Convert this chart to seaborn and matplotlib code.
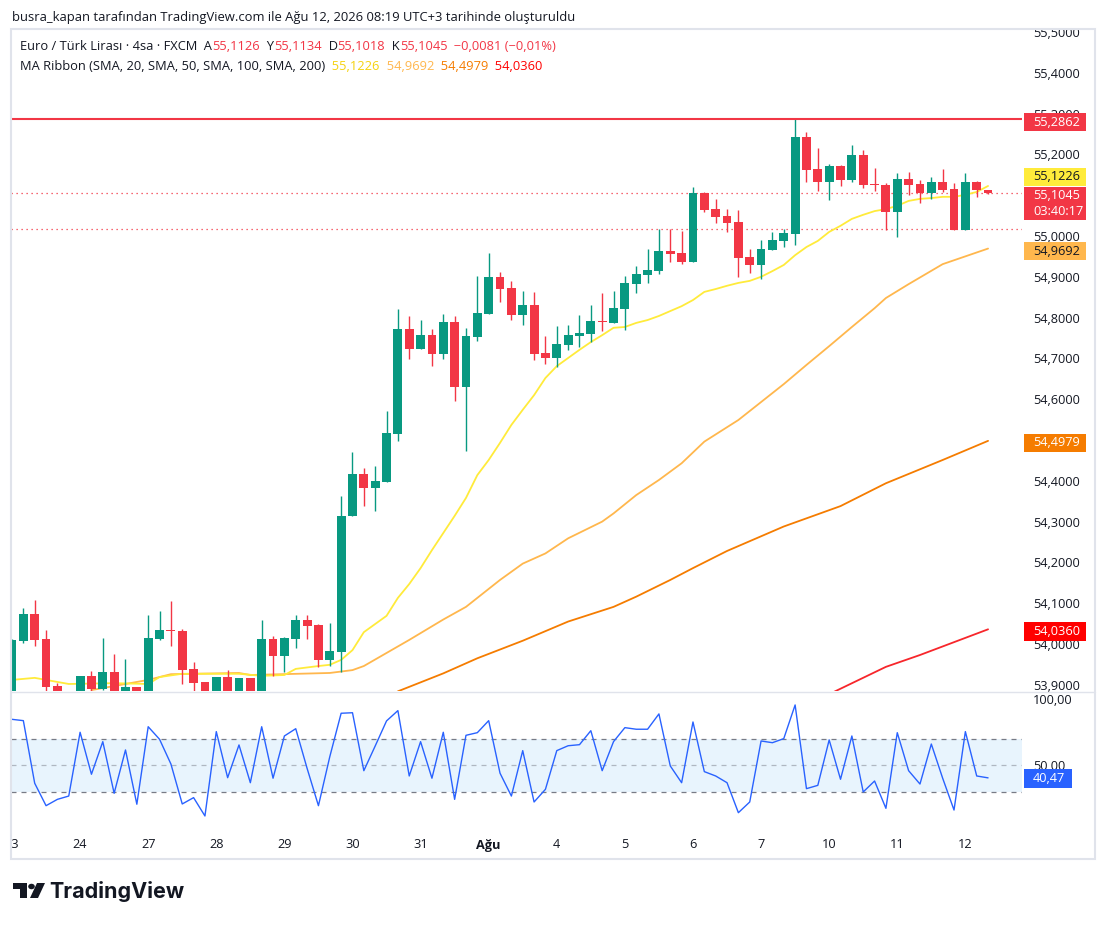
import numpy as np
import pandas as pd
import seaborn as sns
import matplotlib.pyplot as plt
import matplotlib.transforms as mtransforms
from matplotlib.patches import Rectangle, Circle, Polygon
from matplotlib.lines import Line2D

W, H = 1106, 925

# EUR/TRY 4h candles, 23 Jul -> 12 Aug 08:00
opens = [53.860, 54.007, 54.074, 54.012, 53.897, 53.860, 53.870, 53.922, 53.890, 53.931,
         53.875, 53.895, 53.875, 54.012, 54.034, 54.032, 53.939, 53.907, 53.875, 53.919,
         53.875, 53.917, 53.880, 54.012, 53.971, 54.012, 54.059, 54.047, 53.961, 53.980,
         54.314, 54.417, 54.382, 54.397, 54.515, 54.772, 54.723, 54.757, 54.711, 54.789,
         54.630, 54.753, 54.809, 54.900, 54.873, 54.806, 54.831, 54.713, 54.701, 54.733,
         54.755, 54.760, 54.792, 54.787, 54.821, 54.882, 54.904, 54.914, 54.963, 54.958,
         54.936, 55.105, 55.066, 55.049, 55.034, 54.949, 54.929, 54.966, 54.988, 55.005,
         55.243, 55.164, 55.132, 55.172, 55.137, 55.199, 55.128, 55.125, 55.059, 55.140,
         55.128, 55.105, 55.132, 55.115, 55.015, 55.132, 55.1126]
highs = [54.012, 54.088, 54.108, 54.034, 53.904, 53.882, 53.922, 53.935, 54.015, 53.976,
         53.963, 53.895, 54.071, 54.081, 54.105, 54.037, 53.956, 53.907, 53.919, 53.936,
         53.917, 53.917, 54.059, 54.020, 54.017, 54.071, 54.071, 54.049, 54.052, 54.363,
         54.471, 54.431, 54.436, 54.571, 54.821, 54.804, 54.794, 54.772, 54.809, 54.804,
         54.775, 54.902, 54.958, 54.912, 54.890, 54.865, 54.863, 54.755, 54.779, 54.782,
         54.806, 54.831, 54.860, 54.865, 54.902, 54.927, 54.968, 55.017, 55.017, 55.012,
         55.120, 55.108, 55.091, 55.066, 55.064, 54.968, 54.990, 55.010, 55.017, 55.2862,
         55.255, 55.216, 55.177, 55.174, 55.223, 55.211, 55.167, 55.130, 55.154, 55.157,
         55.137, 55.145, 55.164, 55.130, 55.154, 55.135, 55.1134]
lows = [53.850, 54.003, 53.995, 53.870, 53.860, 53.850, 53.860, 53.870, 53.887, 53.860,
        53.860, 53.860, 53.860, 54.010, 53.995, 53.902, 53.880, 53.860, 53.860, 53.860,
        53.860, 53.860, 53.870, 53.922, 53.931, 53.990, 54.012, 53.944, 53.946, 53.931,
        54.313, 54.338, 54.326, 54.396, 54.498, 54.699, 54.722, 54.681, 54.699, 54.596,
        54.473, 54.743, 54.808, 54.838, 54.794, 54.782, 54.696, 54.686, 54.679, 54.721,
        54.728, 54.740, 54.767, 54.786, 54.770, 54.860, 54.885, 54.907, 54.936, 54.931,
        54.936, 55.059, 55.032, 55.010, 54.900, 54.909, 54.895, 54.965, 54.973, 54.978,
        55.132, 55.110, 55.088, 55.123, 55.132, 55.118, 55.110, 55.015, 54.998, 55.101,
        55.081, 55.091, 55.108, 55.015, 55.015, 55.096, 55.1018]
closes = [54.010, 54.074, 54.010, 53.895, 53.870, 53.875, 53.922, 53.890, 53.931, 53.870,
          53.895, 53.870, 54.015, 54.034, 54.032, 53.936, 53.904, 53.870, 53.919, 53.870,
          53.917, 53.875, 54.012, 53.971, 54.015, 54.059, 54.044, 53.961, 53.983, 54.314,
          54.417, 54.382, 54.400, 54.517, 54.772, 54.723, 54.757, 54.711, 54.789, 54.630,
          54.755, 54.811, 54.900, 54.870, 54.806, 54.831, 54.711, 54.701, 54.735, 54.757,
          54.762, 54.792, 54.789, 54.824, 54.885, 54.907, 54.917, 54.963, 54.956, 54.936,
          55.105, 55.064, 55.047, 55.032, 54.946, 54.929, 54.968, 54.990, 55.007, 55.243,
          55.162, 55.132, 55.172, 55.137, 55.199, 55.125, 55.125, 55.059, 55.140, 55.125,
          55.105, 55.132, 55.113, 55.015, 55.132, 55.1126, 55.1045]

# MA Ribbon lines, read at the bars where the curve could be measured
sma20_bars = [0, 2, 5, 9, 12, 13, 15, 20, 22, 24, 25, 27, 28, 29, 30, 31, 33] + list(range(34, 87))
sma20_vals = [53.912, 53.917, 53.902, 53.904, 53.902, 53.919, 53.927, 53.927, 53.922, 53.924,
              53.939, 53.946, 53.949, 53.961, 53.985, 54.029, 54.069,
              54.113, 54.147, 54.186, 54.230, 54.272, 54.314, 54.358, 54.414, 54.451, 54.493,
              54.537, 54.574, 54.610, 54.652, 54.681, 54.701, 54.721, 54.740, 54.757, 54.775,
              54.777, 54.787, 54.794, 54.804, 54.816, 54.828, 54.843, 54.863, 54.870, 54.878,
              54.885, 54.890, 54.900, 54.914, 54.929, 54.953, 54.973, 54.988, 55.010, 55.025,
              55.042, 55.052, 55.061, 55.066, 55.074, 55.086, 55.091, 55.093, 55.096, 55.096,
              55.101, 55.108, 55.1226]
sma50_bars = [7, 12, 14, 20, 21, 28, 30, 31, 33, 35, 38, 40, 43, 45, 47, 49, 52, 53, 55, 57,
              59, 61, 64, 66, 68, 70, 72, 74, 76, 77, 79, 82, 86]
sma50_vals = [53.887, 53.912, 53.926, 53.929, 53.924, 53.929, 53.936, 53.946, 53.978, 54.010,
              54.060, 54.091, 54.157, 54.197, 54.222, 54.259, 54.300, 54.320, 54.365, 54.402,
              54.443, 54.496, 54.549, 54.593, 54.637, 54.684, 54.730, 54.777, 54.823, 54.848,
              54.882, 54.931, 54.9692]
sma100_bars = [34, 38, 41, 45, 49, 53, 55, 58, 60, 63, 68, 73, 77, 82, 86]
sma100_vals = [53.884, 53.928, 53.965, 54.008, 54.055, 54.091, 54.116, 54.157, 54.186, 54.228,
               54.288, 54.338, 54.394, 54.451, 54.4979]
sma200_bars = [72, 77, 80, 86]
sma200_vals = [53.877, 53.944, 53.973, 54.036]

# CRSI (3, 2, 100), one value per bar
crsi = [84.8, 83.8, 36.4, 19.4, 24.2, 26.7, 75.0, 43.2, 67.9, 28.8,
        61.6, 20.5, 79.2, 69.7, 51.0, 20.7, 25.5, 11.6, 75.5, 40.6,
        65.4, 36.8, 79.2, 40.2, 72.2, 77.7, 47.7, 19.4, 56.5, 89.4,
        89.8, 45.9, 64.6, 83.6, 91.4, 41.9, 67.9, 40.2, 75.0, 24.2,
        72.7, 74.7, 83.8, 44.0, 26.7, 61.1, 22.2, 31.8, 61.1, 64.8,
        65.6, 76.2, 45.9, 67.9, 78.5, 77.3, 77.3, 88.9, 49.5, 36.8,
        82.8, 45.2, 41.9, 36.8, 14.1, 22.2, 68.4, 67.1, 70.2, 95.7,
        32.3, 34.8, 69.2, 39.4, 72.2, 29.8, 38.1, 17.4, 74.7, 45.9,
        35.8, 66.1, 40.2, 16.1, 75.5, 41.9, 40.47]

day_bars = [0, 6, 12, 18, 24, 30, 36, 42, 48, 54, 60, 66, 72, 78, 84]
day_labels = ["23", "24", "27", "28", "29", "30", "31", "Ağu", "4", "5", "6", "7", "10", "11", "12"]

# 55.1 and 54.5 sit fully under the price tags, so they are left out
price_ticks = [53.9, 54.0, 54.1, 54.2, 54.3, 54.4, 54.6, 54.7, 54.8,
               54.9, 55.0, 55.2, 55.3, 55.4, 55.5]
crsi_ticks = [50, 100]

high_line = 55.2862
last_close = 55.1045
dotted_level = 55.0172

GREEN, RED = "#089981", "#F23645"
TXT = "#131722"

sns.set_theme(style="white")
plt.rcParams['font.family'] = ['Open Sans', 'DejaVu Sans']

fig = plt.figure(figsize=(W / 100, H / 100), dpi=100)
fig.patch.set_facecolor("white")


def px_box(x0, y0, x1, y1):
    # pixel box with top-left origin -> [left, bottom, width, height] in figure fraction
    return [x0 / W, 1 - y1 / H, (x1 - x0) / W, (y1 - y0) / H]


ax = fig.add_axes(px_box(11, 30, 1022, 691))
axc = fig.add_axes(px_box(11, 692, 1022, 828))
for a in (ax, axc):
    for s in a.spines.values():
        s.set_visible(False)
    a.set_xlim(-0.088, 88.99)
    a.set_xticks([])
    a.yaxis.tick_right()
    a.tick_params(axis='y', length=0, pad=8, labelsize=9.2, labelcolor=TXT)

ax.set_ylim(53.8848, 55.5049)
axc.set_ylim(2.5, 105.5)

# ---- candles ----
df = pd.DataFrame({"o": opens, "h": highs, "l": lows, "c": closes})
df["i"] = np.arange(len(df))
df["col"] = np.where(df["c"] >= df["o"], GREEN, RED)
body_lo = df[["o", "c"]].min(axis=1)
body_h = (df["c"] - df["o"]).abs().clip(lower=0.0004)
ax.vlines(df["i"], df["l"], df["h"], colors=df["col"], lw=1.0, zorder=3)
ax.bar(df["i"], body_h, bottom=body_lo, width=0.78, color=df["col"], lw=0, zorder=4)

# ---- MA ribbon ----
for bars, vals, col in [(sma200_bars, sma200_vals, "#F7262B"),
                        (sma100_bars, sma100_vals, "#F57C00"),
                        (sma50_bars, sma50_vals, "#FFB74D"),
                        (sma20_bars, sma20_vals, "#FFEB3B")]:
    sns.lineplot(x=bars, y=vals, ax=ax, color=col, lw=1.3, zorder=2)

ax.axhline(high_line, color=RED, lw=1.5, zorder=5)
ax.axhline(last_close, color=RED, lw=0.9, ls=(0, (1, 3)), zorder=1)
ax.axhline(dotted_level, color=RED, lw=0.9, ls=(0, (1, 3)), zorder=1)

ax.set_yticks(price_ticks)
ax.set_yticklabels([f"{v:.4f}".replace(".", ",") for v in price_ticks])
ax.set_xlabel("")
ax.set_ylabel("")

# ---- CRSI pane ----
axc.axhspan(30, 70, color="#2196F3", alpha=0.1, lw=0)
axc.axhline(70, color="#787B86", lw=0.9, ls=(0, (4, 4)))
axc.axhline(50, color="#787B86", lw=0.9, ls=(0, (4, 4)), alpha=0.5)
axc.axhline(30, color="#787B86", lw=0.9, ls=(0, (4, 4)))
sns.lineplot(x=np.arange(len(crsi)), y=crsi, ax=axc, color="#2962FF", lw=1.0)
axc.set_yticks(crsi_ticks)
axc.set_yticklabels([f"{v:.2f}".replace(".", ",") for v in crsi_ticks])
axc.set_xlabel("")
axc.set_ylabel("")

# ---- time axis labels (clipped by the chart frame) ----
frame_clip = mtransforms.TransformedBbox(mtransforms.Bbox([[11 / W, 0], [1095 / W, 1]]), fig.transFigure)
tx = mtransforms.blended_transform_factory(axc.transData, axc.transAxes)
for b, lab in zip(day_bars, day_labels):
    t = axc.text(b, -0.125, lab, transform=tx, ha="center", va="center", fontsize=9.2,
                 color=TXT, weight="bold" if lab == "Ağu" else "normal")
    t.set_clip_box(frame_clip)
    t.set_clip_on(True)

# ---- frame ----
fig.add_artist(Rectangle((11 / W, 1 - 859 / H), 1084 / W, 830 / H, transform=fig.transFigure,
                         fill=False, edgecolor="#E0E3EB", lw=1.5, zorder=8))
fig.add_artist(Line2D([11 / W, 1095 / W], [1 - 691.5 / H] * 2, transform=fig.transFigure,
                      color="#E0E3EB", lw=1.0, zorder=8))


# ---- price tags on the right scale ----
def tag(axis, value, text, face, tcolor, shift=0.0, h=18.5, x0=1024, x1=1086):
    yd = axis.transData.transform((0, value))[1] - shift
    fig.add_artist(Rectangle((x0 / W, (yd - h / 2) / H), (x1 - x0) / W, h / H,
                             transform=fig.transFigure, facecolor=face, lw=0, zorder=9))
    fig.text(1033 / W, yd / H, text, color=tcolor, fontsize=9.2, ha="left", va="center",
             zorder=10, linespacing=1.25)


tag(ax, high_line, "55,2862", RED, "white", shift=3)
tag(ax, sma20_vals[-1], "55,1226", "#FFEB3B", TXT, shift=-9)
tag(ax, last_close, "55,1045\n03:40:17", RED, "white", shift=10, h=33)
tag(ax, sma50_vals[-1], "54,9692", "#FFB74D", TXT, shift=2.5)
tag(ax, sma100_vals[-1], "54,4979", "#F57C00", "white", shift=2)
tag(ax, sma200_vals[-1], "54,0360", "#FF0000", "white", shift=2)
tag(axc, crsi[-1], "40,47", "#2962FF", "white", shift=0.5, x1=1072)


# ---- legend rows in the panes ----
def text_row(x_px, y_px, parts, size=9.3):
    prev = None
    for s, c in parts:
        if prev is None:
            prev = ax.annotate(s, xy=(x_px, H - y_px), xycoords="figure pixels", color=c,
                               fontsize=size, ha="left", va="center", annotation_clip=False)
        else:
            prev = ax.annotate(s, xy=(1, 0.5), xycoords=prev, color=c, fontsize=size,
                               ha="left", va="center", annotation_clip=False)


text_row(20, 46, [("Euro / Türk Lirası · 4sa · FXCM", TXT), ("  A", TXT), ("55,1126", RED),
                  ("  Y", TXT), ("55,1134", RED), ("  D", TXT), ("55,1018", RED),
                  ("  K", TXT), ("55,1045", RED), ("  −0,0081 (−0,01%)", RED)])
text_row(20, 66, [("MA Ribbon (SMA, 20, SMA, 50, SMA, 100, SMA, 200)", TXT),
                  ("  55,1226", "#F5D20F"), ("  54,9692", "#FFB74D"),
                  ("  54,4979", "#F57C00"), ("  54,0360", "#FF0000")])
text_row(20, 709, [("CRSI (3, 2, 100)", TXT), ("  40,47", "#2962FF")])

fig.text(12 / W, 1 - 17 / H,
         "busra_kapan tarafından TradingView.com ile Ağu 12, 2026 08:19 UTC+3 tarihinde oluşturuldu",
         fontsize=9.4, color=TXT, ha="left", va="center")

# ---- TradingView logo ----
def pt(x, y):
    return (x / W, 1 - y / H)


fig.add_artist(Polygon([pt(13, 883), pt(27, 883), pt(27, 898), pt(20, 898), pt(20, 889), pt(13, 889)],
                       closed=True, transform=fig.transFigure, facecolor=TXT, lw=0))
fig.add_artist(Circle(pt(31.5, 886.5), 3.3 / W, transform=fig.transFigure, facecolor=TXT, lw=0))
fig.add_artist(Polygon([pt(37, 883), pt(45, 883), pt(38, 898), pt(30, 898)],
                       closed=True, transform=fig.transFigure, facecolor=TXT, lw=0))
fig.text(49 / W, 1 - 891 / H, "TradingView", fontsize=15.5, weight="bold", color=TXT,
         ha="left", va="center", family=["Inter", "DejaVu Sans"])

fig.savefig("out.png", dpi=100, facecolor="white")
